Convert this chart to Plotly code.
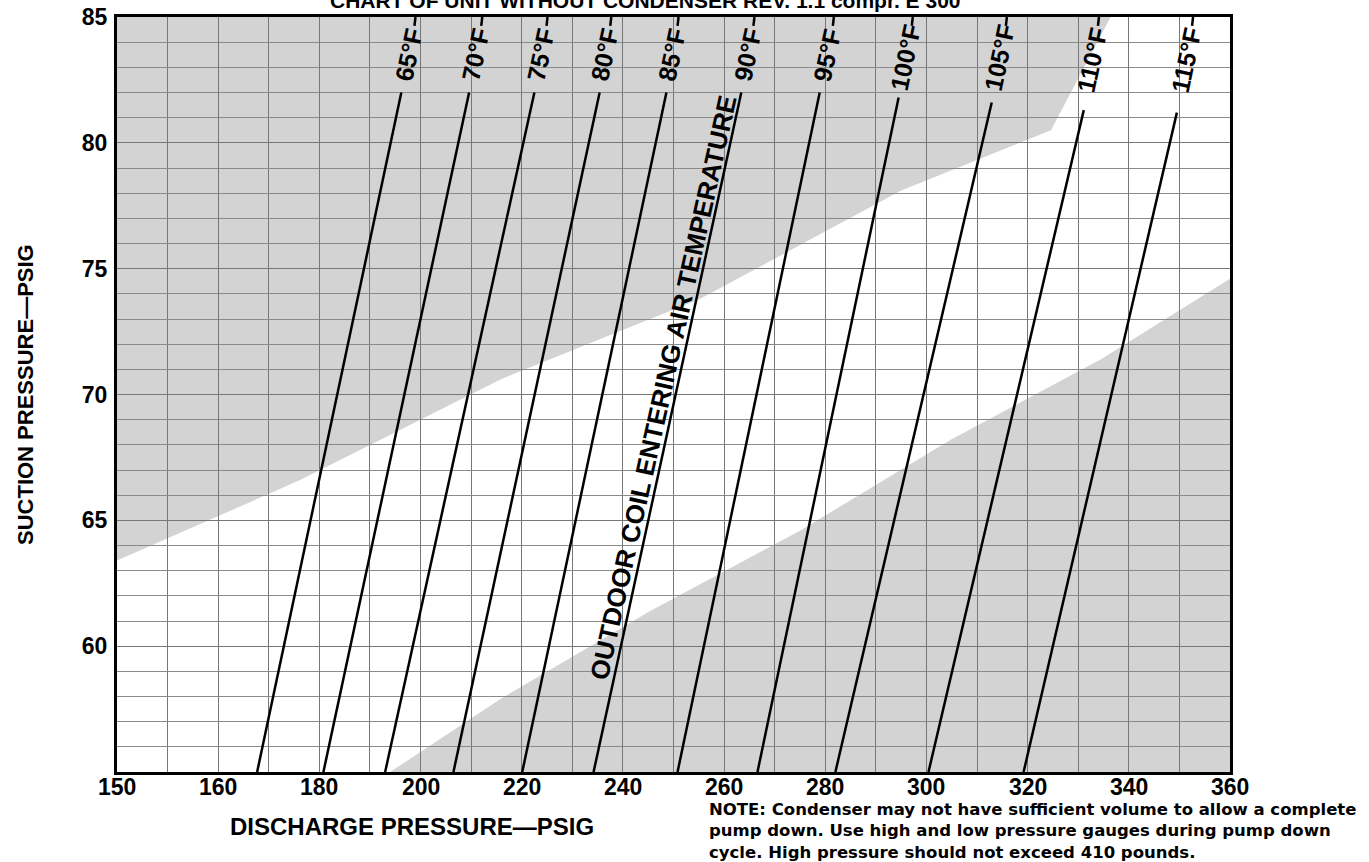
"""Suction vs discharge pressure chart for outdoor coil entering air temperature."""

import plotly.graph_objects as go

# outdoor coil entering air temperatures (deg F)
temps = [65, 70, 75, 80, 85, 90, 95, 100, 105, 110, 115]

# each line: discharge psig at the bottom (suction 55) and at its upper end
bottom_discharge = [167.7, 180.8, 193.0, 206.5, 220.1, 234.2, 250.8, 266.6, 282.0, 300.4, 319.2]
top_discharge = [196.2, 209.6, 222.5, 235.4, 248.6, 263.4, 278.9, 294.5, 312.9, 331.1, 349.5]
bottom_suction = [55] * 11
top_suction = [82.0, 82.0, 82.0, 82.0, 82.0, 82.0, 82.0, 81.8, 81.6, 81.3, 81.2]

# where the rotated temperature labels sit
label_discharge = [197.6, 210.8, 223.7, 236.3, 249.6, 264.6, 280.3, 295.9, 314.5, 332.7, 351.3]
label_suction = [83.5, 83.5, 83.5, 83.5, 83.5, 83.5, 83.5, 83.4, 83.4, 83.3, 83.3]

# short line ends poking out above each label, up to the top border
stub_discharge = [199.0, 212.2, 225.1, 237.7, 251.0, 266.0, 281.7, 297.3, 315.9, 334.1, 352.7]
stub_suction = [84.65] * 11

# axis ticks (the left edge of the printed chart carries a "150" label)
x_tickvals = [140, 160, 180, 200, 220, 240, 260, 280, 300, 320, 340, 360]
x_ticktext = ["150", "160", "180", "200", "220", "240", "260", "280", "300", "320", "340", "360"]
y_tickvals = [60, 65, 70, 75, 80, 85]

# shaded halftone patches of the scanned background
shade_upper_x = [140, 140, 176.2, 215.8, 255.3, 294.9, 324.6, 336.4]
shade_upper_y = [85, 63.4, 66.6, 70.6, 73.8, 78.1, 80.5, 85]
shade_lower_x = [194.0, 215.8, 245.4, 275.1, 304.8, 334.5, 360, 360]
shade_lower_y = [55, 57.9, 61.4, 64.6, 68.2, 71.4, 74.6, 55]

FONT = "Liberation Sans, Arial, sans-serif"
NOTE_FONT = "DejaVu Sans, Liberation Sans, sans-serif"
SHADE = "#d3d3d3"

# plot box in page pixels (page body margin is removed below)
FIG_W, FIG_H = 1369, 862
PLOT_L, PLOT_R, PLOT_T, PLOT_B = 117, 1230, 17, 772
PLOT_W, PLOT_H = PLOT_R - PLOT_L, PLOT_B - PLOT_T


def px(x):
    return (x - PLOT_L) / PLOT_W


def py(y):
    return (PLOT_B - y) / PLOT_H


def patch(xs, ys):
    pts = " L ".join(f"{x},{y}" for x, y in zip(xs, ys))
    return dict(type="path", path=f"M {pts} Z", xref="x", yref="y",
                fillcolor=SHADE, line=dict(width=0), layer="below")


fig = go.Figure()

for i, t in enumerate(temps):
    fig.add_trace(go.Scatter(
        x=[bottom_discharge[i], top_discharge[i], None, stub_discharge[i] - 0.2, stub_discharge[i]],
        y=[bottom_suction[i], top_suction[i], None, stub_suction[i], 85],
        mode="lines", line=dict(color="black", width=2.5),
        name=f"{t}°F", showlegend=False,
    ))
    fig.add_annotation(
        x=label_discharge[i], y=label_suction[i], text=f"<b>{t}°F</b>",
        textangle=-78, showarrow=False,
        font=dict(family=FONT, size=25, color="black"),
    )

fig.add_annotation(
    x=248.0, y=70.3, text="<b>OUTDOOR COIL ENTERING AIR TEMPERATURE</b>",
    textangle=-77.5, showarrow=False,
    font=dict(family=FONT, size=26, color="black"),
)

# x tick labels written just under the frame
for v, s in zip(x_tickvals, x_ticktext):
    fig.add_annotation(
        x=v, xref="x", y=0, yref="paper", yanchor="top", yshift=0,
        text=f"<b>{s}</b>", showarrow=False,
        font=dict(family=FONT, size=23, color="black"),
    )

# heading cut off by the top edge of the scan
fig.add_annotation(
    xref="paper", yref="paper", x=px(645), y=py(0), xanchor="center", yanchor="middle",
    text="<b>CHART OF UNIT WITHOUT CONDENSER REV. 1.1 compr. E 300</b>",
    showarrow=False, font=dict(family=FONT, size=21, color="black"),
)

# axis titles and note
fig.add_annotation(
    xref="paper", yref="paper", x=px(412), y=py(826), xanchor="center", yanchor="middle",
    text="<b>DISCHARGE PRESSURE—PSIG</b>", showarrow=False,
    font=dict(family=FONT, size=24, color="black"),
)
fig.add_annotation(
    xref="paper", yref="paper", x=px(25), y=py(395), xanchor="center", yanchor="middle",
    text="<b>SUCTION PRESSURE—PSIG</b>", textangle=-90, showarrow=False,
    font=dict(family=FONT, size=22, color="black"),
)
fig.add_annotation(
    xref="paper", yref="paper", x=px(707), y=py(798),
    xanchor="left", yanchor="top", align="left", showarrow=False,
    text=("<b>NOTE: Condenser may not have sufficient volume to allow a complete<br>"
          "pump down. Use high and low pressure gauges during pump down<br>"
          "cycle. High pressure should not exceed 410 pounds.</b>"),
    font=dict(family=NOTE_FONT, size=16.5, color="black"),
)

fig.update_xaxes(
    range=[140, 360], tickvals=x_tickvals, showticklabels=False,
    showgrid=True, gridcolor="#777", gridwidth=1,
    minor=dict(tick0=140, dtick=10, showgrid=True, gridcolor="#777", gridwidth=1),
    showline=True, linecolor="black", linewidth=3, mirror=True,
    ticks="", zeroline=False, automargin=False,
)
fig.update_yaxes(
    range=[55, 85], tickvals=y_tickvals,
    showgrid=True, gridcolor="#777", gridwidth=1,
    minor=dict(tick0=55, dtick=1, showgrid=True, gridcolor="#8a8a8a", gridwidth=1),
    showline=True, linecolor="black", linewidth=3, mirror=True,
    ticks="", zeroline=False, automargin=False, ticklabelstandoff=2,
    ticklabeloverflow="allow",
    tickfont=dict(family=FONT, size=23, color="black", weight="bold"),
)

fig.update_layout(
    width=FIG_W, height=FIG_H,
    margin=dict(l=PLOT_L, r=FIG_W - PLOT_R, t=PLOT_T, b=FIG_H - PLOT_B),
    plot_bgcolor="white", paper_bgcolor="white",
    showlegend=False,
    shapes=[patch(shade_upper_x, shade_upper_y), patch(shade_lower_x, shade_lower_y)],
)

fig.write_html("out.html", config={"displayModeBar": False},
               post_script="document.body.style.margin = '0';")
